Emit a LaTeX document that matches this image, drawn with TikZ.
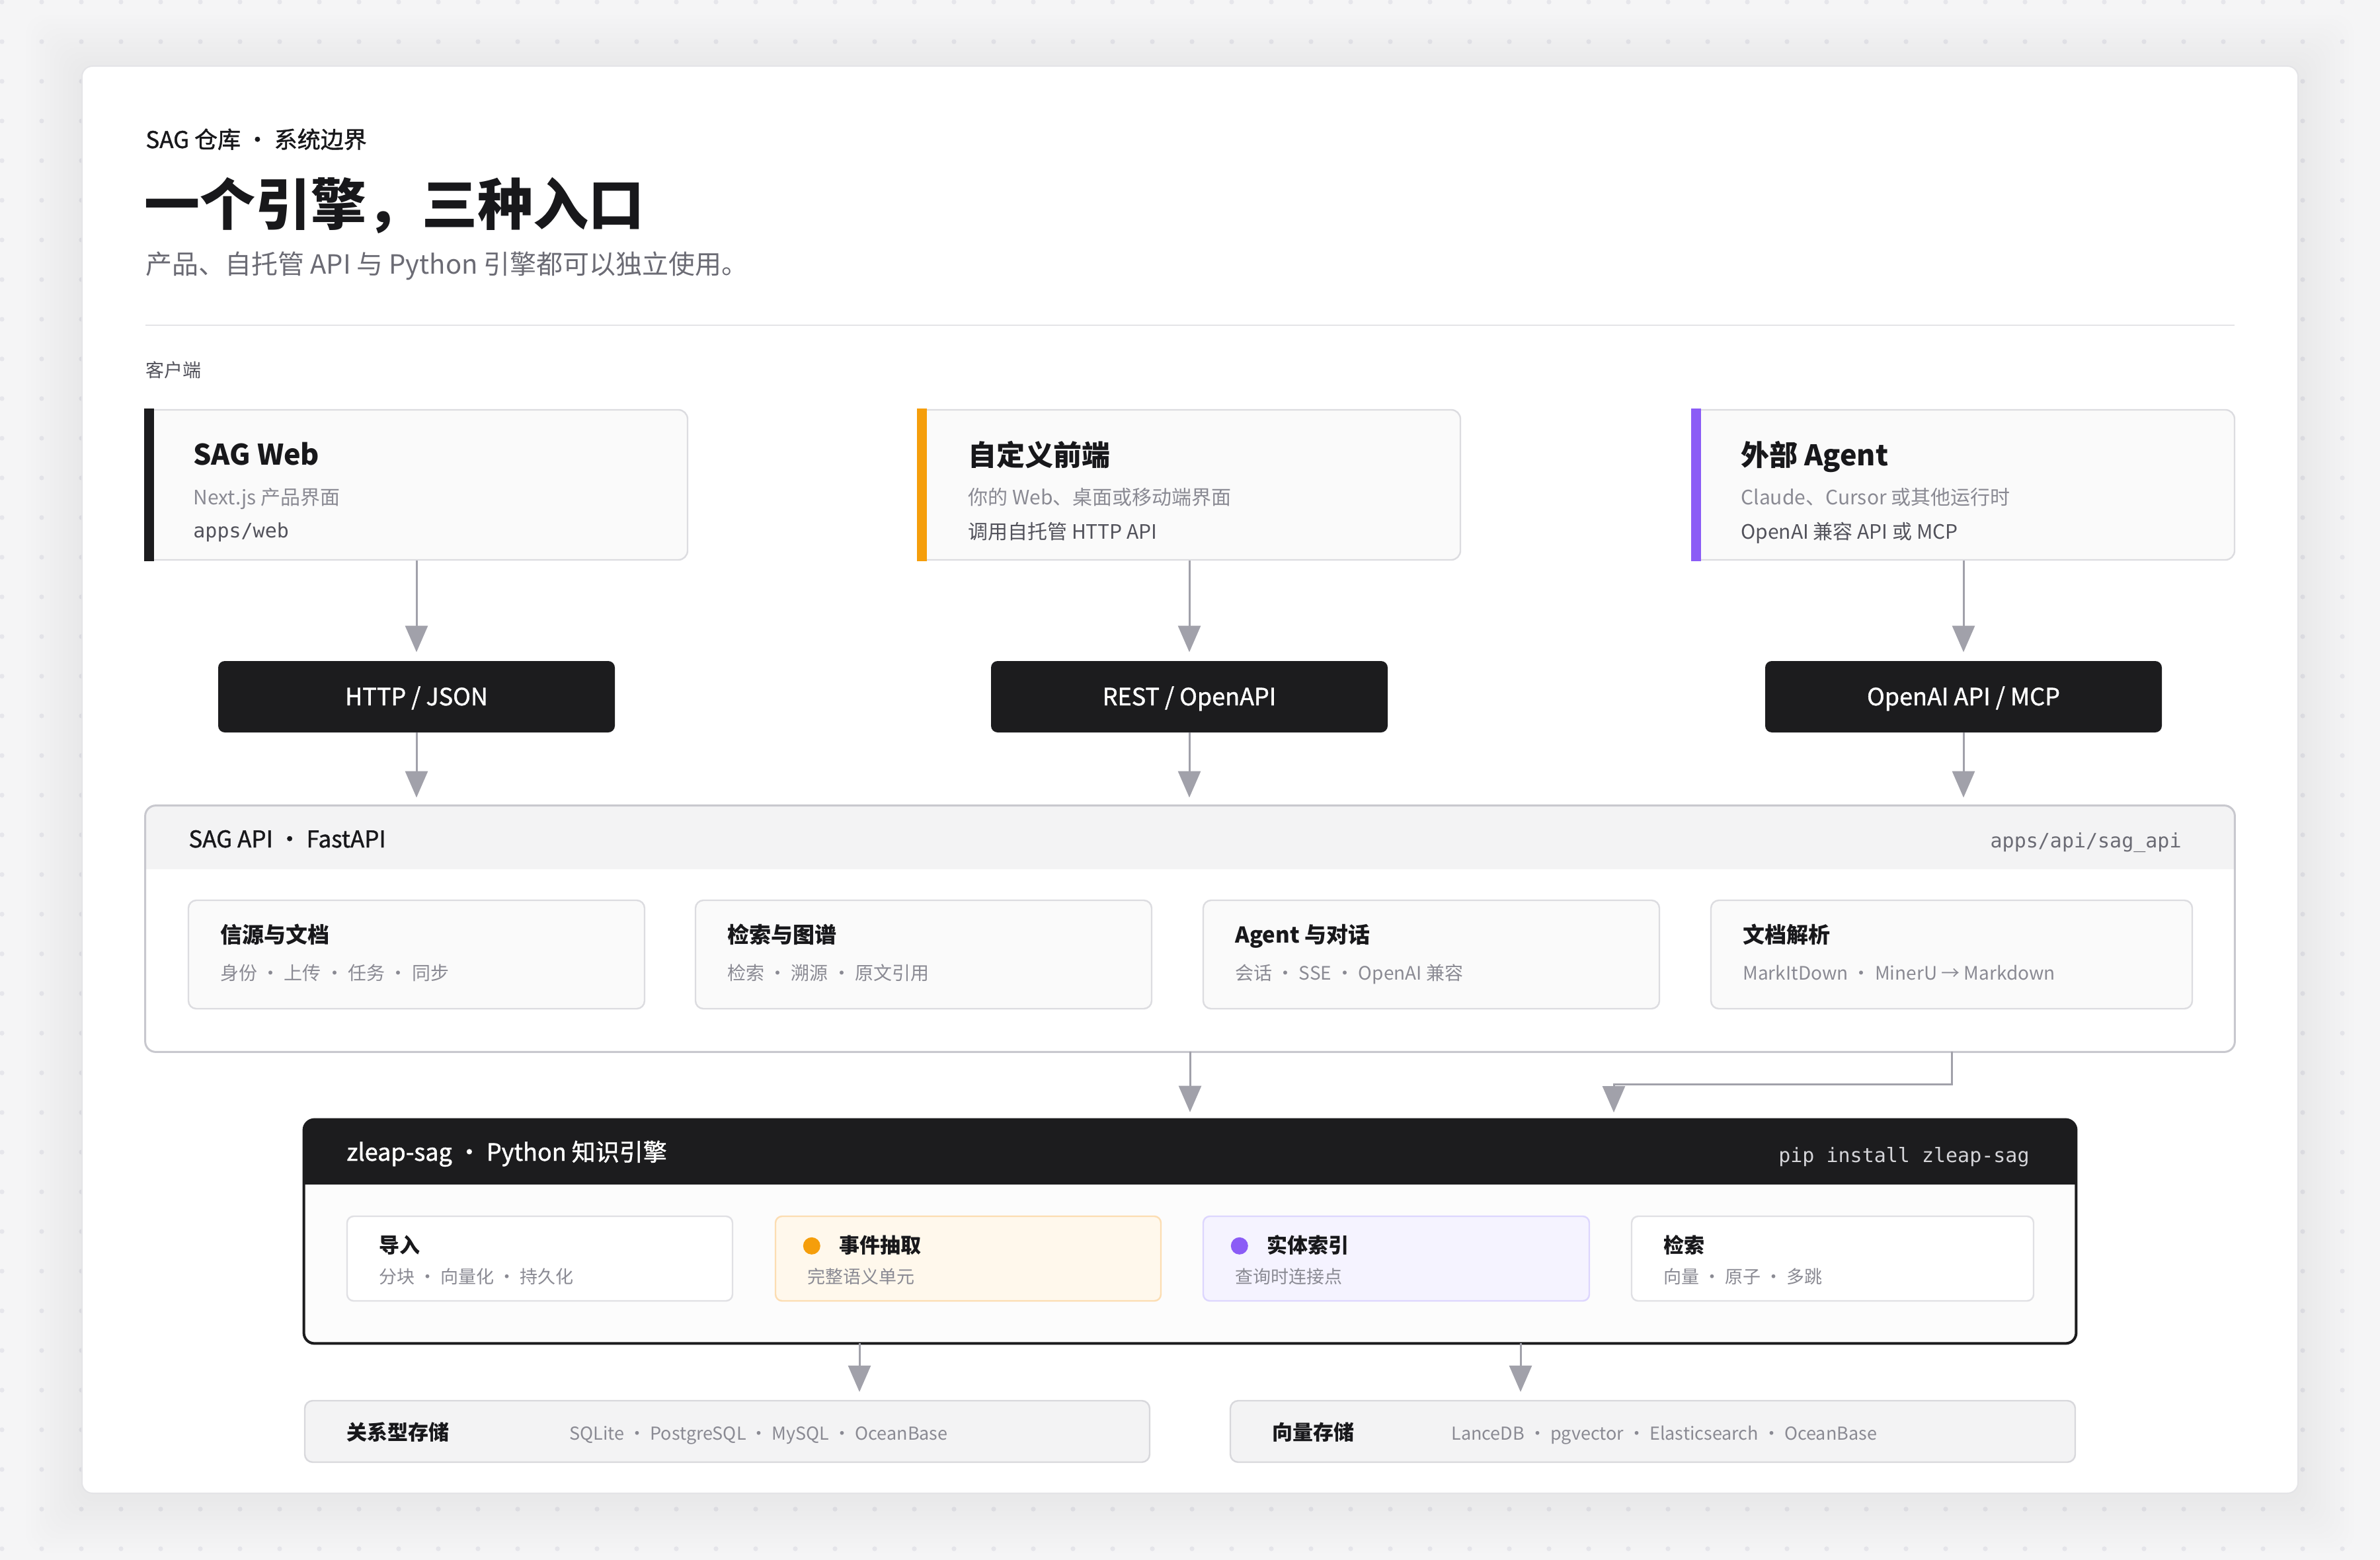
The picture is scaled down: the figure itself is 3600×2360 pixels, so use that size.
\documentclass[tikz,border=0pt]{standalone}
\usepackage{fontspec}
\setmainfont{Noto Sans CJK SC}
\setmonofont{DejaVu Sans Mono}
\newfontfamily\medfont{Noto Sans CJK SC}[FakeBold=1.2]
\usetikzlibrary{arrows.meta,calc,fit}
\definecolor{bg}{HTML}{F5F5F6}
\definecolor{dotc}{HTML}{E6E6EB}
\definecolor{cardb}{HTML}{E4E4E7}
\definecolor{dark}{HTML}{18181B}
\definecolor{subc}{HTML}{6B6B74}
\definecolor{gtwo}{HTML}{8A8A93}
\definecolor{gthree}{HTML}{52525B}
\definecolor{boxf}{HTML}{FAFAFA}
\definecolor{boxb}{HTML}{DCDCE0}
\definecolor{blk}{HTML}{1C1C1E}
\definecolor{arrowc}{HTML}{A1A1AA}
\definecolor{apib}{HTML}{C8C8CE}
\definecolor{hdr}{HTML}{F3F3F4}
\definecolor{oran}{HTML}{F59E0B}
\definecolor{purp}{HTML}{8B5CF6}
\definecolor{ofill}{HTML}{FFF8EC}
\definecolor{oline}{HTML}{FCDDB2}
\definecolor{pfill}{HTML}{F5F3FF}
\definecolor{pline}{HTML}{DDD6FE}
\definecolor{zbody}{HTML}{FCFCFC}
\definecolor{storef}{HTML}{F3F3F4}
\definecolor{storeb}{HTML}{D8D8DC}
\definecolor{wboxb}{HTML}{E0E0E4}
\definecolor{pipc}{HTML}{D4D4D8}
\definecolor{rulec}{HTML}{E4E4E7}
\newcommand{\sz}[1]{\fontsize{#1}{#1}\selectfont}
\begin{document}
\begin{tikzpicture}[x=0.5pt,y=-0.5pt,
  t/.style={inner sep=0pt, anchor=base west},
  tc/.style={inner sep=0pt, anchor=base},
  te/.style={inner sep=0pt, anchor=base east},
  client/.style={inner sep=0pt, fill=boxf, draw=boxb, line width=1.2pt, rounded corners=7pt},
  proto/.style={inner sep=0pt, fill=blk, rounded corners=5pt},
  module/.style={inner sep=0pt, fill=boxf, draw=boxb, line width=1.2pt, rounded corners=6pt},
  zmod/.style={inner sep=0pt, fill=white, draw=wboxb, line width=1.2pt, rounded corners=5pt},
  store/.style={inner sep=0pt, fill=storef, draw=storeb, line width=1.2pt, rounded corners=6pt},
  arr/.style={draw=arrowc, line width=1.5pt, -{Triangle[width=17pt,length=20pt,fill=arrowc]}},
  ctitle/.style={t, font=\sz{21.5pt}\bfseries, text=dark},
  cline/.style={t, font=\sz{15pt}, text=gtwo},
  cthree/.style={t, font=\sz{15pt}, text=gthree},
  mtitle/.style={t, font=\sz{16.5pt}\bfseries, text=dark},
  msub/.style={t, font=\sz{14pt}, text=gtwo},
  ztitle/.style={t, font=\sz{15.5pt}\bfseries, text=dark},
  zsub/.style={t, font=\sz{13.5pt}, text=gtwo},
  plabel/.style={tc, font=\sz{18pt}\medfont, text=white},
]
\useasboundingbox (0,0) rectangle (3600,2360);
\fill[bg] (0,0) rectangle (3600,2360);
\foreach \i in {0,...,59}{
  \foreach \j in {0,...,39}{
    \fill[dotc] ({3+60*\i},{3+60*\j}) circle[radius=1.8pt];
  }
}
% soft shadow
\foreach \k in {1,...,12}{
  \fill[black, opacity=0.004, rounded corners=14pt] ({124-7*\k},{106-7*\k}) rectangle ({3476+7*\k},{2265+7*\k});
}
% card
\node[fit={(124,100)(3476,2259)}, inner sep=0pt, draw=cardb, line width=1pt, fill=white, rounded corners=8pt] (card) {};

% headings
\node[t, font=\sz{17.5pt}\medfont, text=dark] (kicker) at (220,224) {SAG 仓库 · 系统边界};
\node[t, font=\sz{42pt}\bfseries, text=dark] (title) at (218,341) {一个引擎，三种入口};
\node[t, font=\sz{20pt}, text=subc] (subtitle) at (220,415) {产品、自托管 API 与 Python 引擎都可以独立使用。};
\draw[rulec, line width=1pt] (220,492) -- (3380,492);
\node[t, font=\sz{14pt}, text=gthree] (clients) at (220,570) {客户端};

% client boxes
\node[client, fit={(220,620)(1040,847)}] (web) {};
\fill[blk] ($(web.north west)+(-1,-1)$) rectangle ($(web.south west)+(14,1)$);
\node[ctitle] (webt) at (292,703) {SAG Web};
\node[cline] (webs) at (292,763) {Next.js 产品界面};
\node[t, font=\sz{15pt}\ttfamily, text=gthree] (webp) at (292,813) {apps/web};

\node[client, fit={(1389,620)(2209,847)}] (custom) {};
\fill[oran] ($(custom.north west)+(-1,-1)$) rectangle ($(custom.south west)+(14,1)$);
\node[ctitle] (customt) at (1464,704) {自定义前端};
\node[cline] (customs) at (1464,763) {你的 Web、桌面或移动端界面};
\node[cthree] (customp) at (1464,815) {调用自托管 HTTP API};

\node[client, fit={(2560,620)(3380,847)}] (agent) {};
\fill[purp] ($(agent.north west)+(-1,-1)$) rectangle ($(agent.south west)+(14,1)$);
\node[ctitle] (agentt) at (2633,704) {外部 Agent};
\node[cline] (agents) at (2633,763) {Claude、Cursor 或其他运行时};
\node[cthree] (agentp) at (2633,815) {OpenAI 兼容 API 或 MCP};

% protocol boxes
\node[proto, fit={(330,1000)(930,1108)}] (http) {};
\node[plabel] at ($(http.center)+(0,13)$) {HTTP / JSON};
\node[proto, fit={(1499,1000)(2099,1108)}] (rest) {};
\node[plabel] at ($(rest.center)+(0,13)$) {REST / OpenAPI};
\node[proto, fit={(2670,1000)(3270,1108)}] (oai) {};
\node[plabel] at ($(oai.center)+(0,13)$) {OpenAI API / MCP};

% API box
\node[fit={(220,1219)(3380,1591)}, inner sep=0pt, fill=white] (api) {};
\begin{scope}
  \clip[rounded corners=8pt] (api.south west) rectangle (api.north east);
  \fill[hdr] (api.north west) rectangle ($(api.north east)+(0,96)$);
\end{scope}
\draw[apib, line width=1.5pt, rounded corners=8pt] (api.south west) rectangle (api.north east);
\node[t, font=\sz{17.5pt}\medfont, text=dark] (apih) at (285,1282) {SAG API · FastAPI};
\node[te, font=\sz{15pt}\ttfamily, text=subc] (apip) at (3300,1282) {apps/api/sag\_api};

\node[module, fit={(285,1362)(975,1526)}] (m1) {};
\node[mtitle] at (333,1426) {信源与文档};
\node[msub] at (333,1482) {身份 · 上传 · 任务 · 同步};
\node[module, fit={(1052,1362)(1742,1526)}] (m2) {};
\node[mtitle] at (1100,1426) {检索与图谱};
\node[msub] at (1100,1482) {检索 · 溯源 · 原文引用};
\node[module, fit={(1820,1362)(2510,1526)}] (m3) {};
\node[mtitle] at (1868,1426) {Agent 与对话};
\node[msub] at (1868,1482) {会话 · SSE · OpenAI 兼容};
\node[module, fit={(2588,1362)(3316,1526)}] (m4) {};
\node[mtitle] at (2636,1426) {文档解析};
\node[msub] at (2636,1482) {MarkItDown · MinerU → Markdown};

% zleap box
\node[fit={(460,1694)(3140,2032)}, inner sep=0pt, fill=zbody] (zleap) {};
\begin{scope}
  \clip[rounded corners=8pt] (zleap.south west) rectangle (zleap.north east);
  \fill[blk] (zleap.north west) rectangle ($(zleap.north east)+(0,98)$);
\end{scope}
\draw[blk, line width=2pt, rounded corners=8pt] (zleap.south west) rectangle (zleap.north east);
\node[t, font=\sz{18pt}\medfont, text=white] (zh) at (524,1756) {zleap-sag · Python 知识引擎};
\node[te, font=\sz{15pt}\ttfamily, text=pipc] (zp) at (3070,1758) {pip install zleap-sag};

\node[zmod, fit={(525,1840)(1108,1968)}] (z1) {};
\node[ztitle] at (573,1895) {导入};
\node[zsub] at (573,1941) {分块 · 向量化 · 持久化};
\node[zmod, fill=ofill, draw=oline, fit={(1173,1840)(1756,1968)}] (z2) {};
\fill[oran] ($(z2.north west)+(56,46)$) circle[radius=6.5pt];
\node[ztitle] at (1269,1895) {事件抽取};
\node[zsub] at (1221,1941) {完整语义单元};
\node[zmod, fill=pfill, draw=pline, fit={(1820,1840)(2404,1968)}] (z3) {};
\fill[purp] ($(z3.north west)+(56,46)$) circle[radius=6.5pt];
\node[ztitle] at (1916,1895) {实体索引};
\node[zsub] at (1868,1941) {查询时连接点};
\node[zmod, fit={(2468,1840)(3076,1968)}] (z4) {};
\node[ztitle] at (2516,1895) {检索};
\node[zsub] at (2516,1941) {向量 · 原子 · 多跳};

% stores
\node[store, fit={(461,2119)(1739,2212)}] (rel) {};
\node[ztitle] at (524,2178) {关系型存储};
\node[zsub] at (861,2178) {SQLite · PostgreSQL · MySQL · OceanBase};
\node[store, fit={(1861,2119)(3139,2212)}] (vec) {};
\node[ztitle] at (1924,2178) {向量存储};
\node[zsub] at (2195,2178) {LanceDB · pgvector · Elasticsearch · OceanBase};

% connectors
\draw[arr, shorten >=6.5pt] (web.south) -- (http.north);
\draw[arr, shorten >=6.5pt] (custom.south) -- (rest.north);
\draw[arr, shorten >=6.5pt] (agent.south) -- (oai.north);
\draw[arr, shorten >=6pt] (http.south) -- (http.south |- api.north);
\draw[arr, shorten >=6pt] (rest.south) -- (rest.south |- api.north);
\draw[arr, shorten >=6pt] (oai.south) -- (oai.south |- api.north);
\draw[arr, shorten >=5.5pt] (api.south) -- (zleap.north);
\coordinate (zin) at (2441,1694);
\draw[arr, shorten >=5.5pt] (m4.south |- api.south) -- ($(m4.south |- api.south)+(0,49)$) -| (zin);
\coordinate (relin) at ($(rel.north)+(200,0)$);
\coordinate (vecin) at ($(vec.north)+(-200,0)$);
\draw[arr, shorten >=6pt] (zleap.south -| relin) -- (relin);
\draw[arr, shorten >=6pt] (zleap.south -| vecin) -- (vecin);
\end{tikzpicture}
\end{document}
